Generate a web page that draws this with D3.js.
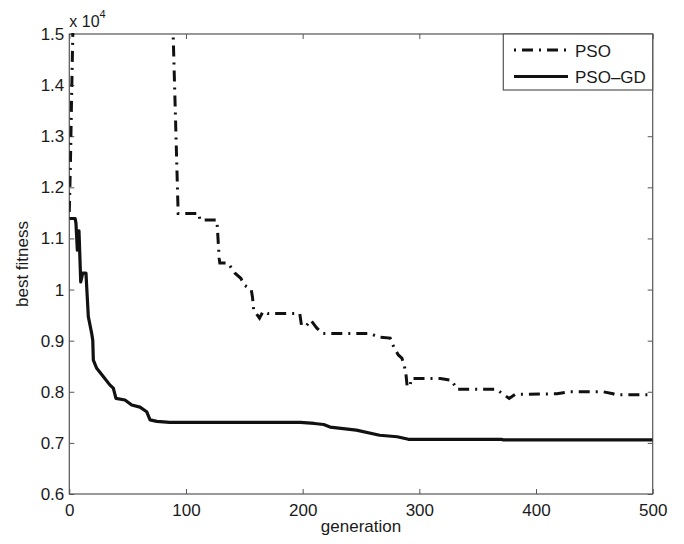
<!DOCTYPE html>
<html>
<head>
<meta charset="utf-8">
<script src="https://cdn.jsdelivr.net/npm/d3@7"></script>
<style>
  html, body { margin: 0; padding: 0; background: #fff; }
  svg { display: block; }
  text { font-family: "Liberation Sans", Arial, Helvetica, sans-serif; fill: #1a1a1a; }
</style>
</head>
<body>
<svg id="chart" width="684" height="544"></svg>
<script>
// ---- data (fitness values) ----
const psoGen = [0, 1, 2, 3.5, 88.5, 89, 93.3, 111, 112, 126.5, 128.5, 129, 136, 142, 147, 150, 156, 157, 158, 163, 166, 170, 197.5, 199, 203, 207, 212, 217, 258, 265, 275, 278, 282, 285, 287, 288.5, 289.5, 292, 293, 318, 328, 332, 366, 372, 377, 382, 418, 429, 457.5, 466, 469, 500];
const psoVal = [11520, 12500, 13800, 15600, 15600, 15000, 11490, 11490, 11360, 11360, 10600, 10520, 10520, 10320, 10220, 10090, 9990, 9850, 9600, 9440, 9570, 9530, 9530, 9300, 9290, 9400, 9250, 9140, 9140, 9070, 9050, 8880, 8720, 8660, 8520, 8350, 8120, 8100, 8260, 8260, 8220, 8050, 8050, 7950, 7870, 7950, 7960, 8000, 8000, 7960, 7940, 7940];

const gdGen = [0, 5, 5.7, 6.9, 8.3, 9.8, 11.5, 14.3, 14.9, 16.3, 19.2, 20.1, 20.6, 23.5, 29.1, 34.9, 37.7, 40, 47.7, 53.5, 60.6, 66.3, 69.2, 75, 86, 198, 210, 218, 223.5, 246, 266, 281, 290.6, 370, 372, 500];
const gdVal = [11390, 11390, 11300, 10770, 11150, 10150, 10320, 10320, 10060, 9470, 9140, 9010, 8620, 8460, 8300, 8130, 8070, 7870, 7840, 7740, 7700, 7610, 7450, 7420, 7400, 7400, 7380, 7360, 7310, 7250, 7150, 7120, 7070, 7070, 7060, 7060];

const xTicks = [0, 100, 200, 300, 400, 500];
const yTicks = [6000, 7000, 8000, 9000, 10000, 11000, 12000, 13000, 14000, 15000];
const seriesNames = ["PSO", "PSO\u2013GD"];

// ---- layout ----
const svg = d3.select("#chart");
const L = 69.3, R = 652.7, T = 34, B = 494;
const x = d3.scaleLinear().domain([0, 500]).range([L, R]);
const y = d3.scaleLinear().domain([6000, 15000]).range([B, T]);
const axisColor = "#555";
const fontSize = "17px";

// clip
svg.append("defs").append("clipPath").attr("id", "plotClip")
  .append("rect").attr("x", L).attr("y", T - 1).attr("width", R - L).attr("height", B - T + 1);

const fmtY = d => String(+(d / 10000).toFixed(1));

// bottom axis
const gb = svg.append("g").attr("transform", `translate(0,${B})`)
  .call(d3.axisBottom(x).tickValues(xTicks).tickSize(-5).tickPadding(10).tickFormat(d3.format("d")));
// left axis
const gl = svg.append("g").attr("transform", `translate(${L},0)`)
  .call(d3.axisLeft(y).tickValues(yTicks).tickSize(-5).tickPadding(5).tickFormat(fmtY));
// top axis
const gt = svg.append("g").attr("transform", `translate(0,${T})`)
  .call(d3.axisTop(x).tickValues(xTicks).tickSize(-5).tickFormat(""));
// right axis
const gr = svg.append("g").attr("transform", `translate(${R},0)`)
  .call(d3.axisRight(y).tickValues(yTicks).tickSize(-5).tickFormat(""));

[gb, gl, gt, gr].forEach(g => {
  g.select(".domain").remove();
  g.selectAll(".tick line").attr("stroke", axisColor).attr("stroke-width", 1);
  g.selectAll(".tick text").style("font-size", fontSize).attr("fill", "#1a1a1a")
    .style("font-family", "'Liberation Sans', Arial, sans-serif");
});

// box
svg.append("rect").attr("x", L).attr("y", T).attr("width", R - L).attr("height", B - T)
  .attr("fill", "none").attr("stroke", axisColor).attr("stroke-width", 1.2);

// lines
const psoData = psoGen.map((g, i) => [g, psoVal[i]]);
const gdData = gdGen.map((g, i) => [g, gdVal[i]]);
const line = d3.line().x(d => x(d[0])).y(d => y(d[1]));

const plot = svg.append("g").attr("clip-path", "url(#plotClip)");
plot.append("path").datum(psoData).attr("d", line)
  .attr("fill", "none").attr("stroke", "#111").attr("stroke-width", 3)
  .attr("stroke-dasharray", "11,6,2,6").attr("stroke-linejoin", "miter");
plot.append("path").datum(gdData).attr("d", line)
  .attr("fill", "none").attr("stroke", "#111").attr("stroke-width", 3.2)
  .attr("stroke-linejoin", "round");

// exponent label
const ex = svg.append("text").attr("x", L).attr("y", 26.5).style("font-size", "16px");
ex.append("tspan").text("x 10");
ex.append("tspan").attr("dy", -9).style("font-size", "11px").text("4");

// axis labels
svg.append("text").attr("x", (L + R) / 2).attr("y", 532).attr("text-anchor", "middle")
  .style("font-size", fontSize).text("generation");
svg.append("text").attr("transform", `translate(28,${(T + B) / 2}) rotate(-90)`)
  .attr("text-anchor", "middle").style("font-size", fontSize).text("best fitness");

// legend
const lg = svg.append("g");
lg.append("rect").attr("x", 503.3).attr("y", T).attr("width", R - 503.3).attr("height", 56)
  .attr("fill", "#fff").attr("stroke", axisColor).attr("stroke-width", 1.2);
const legendStyles = [
  { dash: "2,6,11,6", w: 3 },
  { dash: null, w: 3.2 }
];
seriesNames.forEach((name, i) => {
  const cy = 50 + i * 26.5;
  const ln = lg.append("line").attr("x1", 514).attr("x2", 568).attr("y1", cy).attr("y2", cy)
    .attr("stroke", "#111").attr("stroke-width", legendStyles[i].w);
  if (legendStyles[i].dash) ln.attr("stroke-dasharray", legendStyles[i].dash);
  lg.append("text").attr("x", 575).attr("y", cy + 6.5).style("font-size", fontSize).text(name);
});
</script>
</body>
</html>
